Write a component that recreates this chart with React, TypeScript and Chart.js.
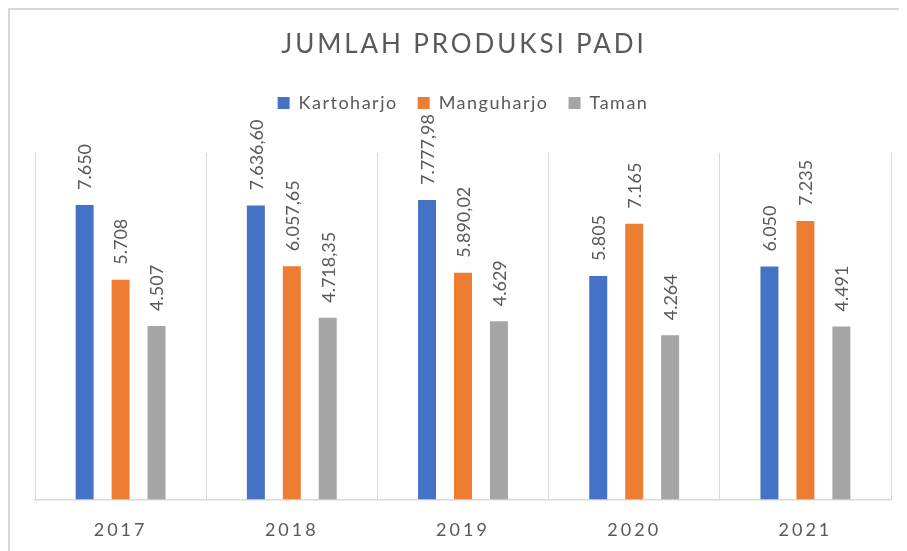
import React, { useEffect, useRef } from 'react';
import { Chart, registerables } from 'chart.js';

Chart.register(...registerables);

const categories = ['2017', '2018', '2019', '2020', '2021'];
const kartoharjo = [7650, 7636.6, 7777.98, 5805, 6050];
const manguharjo = [5708, 6057.65, 5890.02, 7165, 7235];
const taman = [4507, 4718.35, 4629, 4264, 4491];
const seriesNames = ['Kartoharjo', 'Manguharjo', 'Taman'];
const seriesColors = ['#4472C4', '#ED7D31', '#A5A5A5'];
const titleText = 'JUMLAH PRODUKSI PADI';
const yMax = 9000;

const FONT = 'Lato, "Open Sans", sans-serif';
const TEXT = '#595959';
const GRID = '#d9d9d9';
const LEGEND_EXTRA = 31;
const BASE_SPACING = '1.5px';

function formatId(v: number): string {
  const fixed = Number.isInteger(v) ? String(v) : v.toFixed(2);
  const parts = fixed.split('.');
  const withDots = parts[0].replace(/\B(?=(\d{3})+(?!\d))/g, '.');
  return parts[1] ? withDots + ',' + parts[1] : withDots;
}

const decorPlugin = {
  id: 'decor',
  beforeLayout(chart: any) {
    chart.ctx.letterSpacing = BASE_SPACING;
    const lg: any = chart.legend;
    if (lg && !lg._patched) {
      const orig = lg.fit;
      lg.fit = function () {
        orig.call(this);
        this.height += LEGEND_EXTRA;
      };
      lg._patched = true;
    }
  },
  beforeDraw(chart: any) {
    const ctx = chart.ctx;
    ctx.letterSpacing = BASE_SPACING;
    ctx.save();
    ctx.fillStyle = GRID;
    ctx.fillRect(0, 0, 2, chart.height);
    ctx.fillRect(0, 0, chart.width, 2);
    ctx.restore();
  },
  afterDatasetsDraw(chart: any) {
    chart.ctx.letterSpacing = '3px';
  },
  afterDraw(chart: any) {
    const ctx = chart.ctx;
    const area = chart.chartArea;
    // title
    ctx.save();
    ctx.letterSpacing = '2.9px';
    ctx.font = `26px ${FONT}`;
    ctx.fillStyle = TEXT;
    ctx.textAlign = 'center';
    ctx.textBaseline = 'middle';
    ctx.fillText(titleText, (area.left + area.right) / 2 + 1, 37);
    ctx.restore();
    // data labels
    chart.data.datasets.forEach((ds: any, di: number) => {
      const meta = chart.getDatasetMeta(di);
      meta.data.forEach((bar: any, i: number) => {
        const v = ds.data[i] as number;
        ctx.save();
        ctx.letterSpacing = '0px';
        ctx.translate(bar.x + 1, bar.y - 15);
        ctx.rotate(-Math.PI / 2);
        ctx.font = `18px ${FONT}`;
        ctx.fillStyle = TEXT;
        ctx.textAlign = 'left';
        ctx.textBaseline = 'middle';
        ctx.fillText(formatId(v), 0, 0);
        ctx.restore();
      });
    });
    ctx.letterSpacing = '0px';
  },
};

export default function App() {
  const ref = useRef<HTMLCanvasElement | null>(null);
  useEffect(() => {
    document.documentElement.style.overflow = 'hidden';
    document.body.style.overflow = 'hidden';
    if (!ref.current) return;
    const series = [kartoharjo, manguharjo, taman];
    const chart = new Chart(ref.current, {
      type: 'bar',
      data: {
        labels: categories,
        datasets: seriesNames.map((name, k) => ({
          label: name,
          data: series[k],
          backgroundColor: seriesColors[k],
          borderWidth: 0,
          barPercentage: 0.5,
          categoryPercentage: 0.63,
        })),
      },
      options: {
        animation: false,
        responsive: true,
        maintainAspectRatio: false,
        layout: { padding: { top: 66, left: 27, right: 16, bottom: -10 } },
        scales: {
          x: {
            offset: true,
            grid: { display: true, offset: true, color: GRID, lineWidth: 1, drawTicks: false },
            border: { display: true, color: GRID, width: 1.5 },
            ticks: { color: TEXT, font: { family: FONT, size: 18 }, padding: 20, z: 1 },
          },
          y: { display: false, min: 0, max: yMax },
        },
        plugins: {
          title: { display: false },
          tooltip: { enabled: false },
          legend: {
            display: true,
            position: 'top',
            labels: {
              color: TEXT,
              font: { family: FONT, size: 18 },
              boxWidth: 12,
              boxHeight: 12,
              padding: 20,
            },
          },
        },
      },
      plugins: [decorPlugin],
    } as any);
    return () => chart.destroy();
  }, []);
  return (
    <div style={{ width: 899, height: 543, position: 'relative' }}>
      <canvas ref={ref} />
    </div>
  );
}
